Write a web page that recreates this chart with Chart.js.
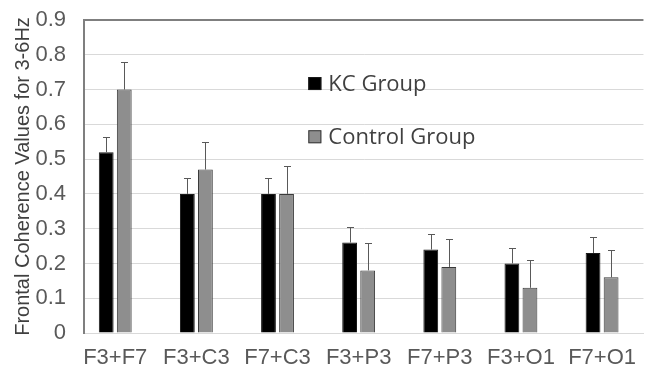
<!DOCTYPE html>
<html>
<head>
<meta charset="utf-8">
<script src="https://cdn.jsdelivr.net/npm/chart.js@4/dist/chart.umd.min.js"></script>
<style>
  html, body { margin: 0; padding: 0; background: #fff; }
  #wrap { width: 648px; height: 372px; }
</style>
</head>
<body>
<div id="wrap"><canvas id="coherenceChart"></canvas></div>
<script>
// electrode pairs on the x axis
const pairs = ["F3+F7", "F3+C3", "F7+C3", "F3+P3", "F7+P3", "F3+O1", "F7+O1"];

// mean coherence and upper error (SD) per group
const kcValues = [0.52, 0.40, 0.40, 0.26, 0.24, 0.20, 0.23];
const kcErrors = [0.043, 0.045, 0.045, 0.045, 0.045, 0.045, 0.045];
const controlValues = [0.70, 0.47, 0.40, 0.18, 0.19, 0.13, 0.16];
const controlErrors = [0.078, 0.08, 0.08, 0.08, 0.08, 0.08, 0.08];

const yMin = 0, yMax = 0.9, yStep = 0.1;

const tickColor = "#595959";
const sansFont = "'Liberation Sans', Arial, sans-serif";

// one-sided error bars (upward only)
const errorBars = {
  id: "errorBars",
  afterDatasetsDraw(chart) {
    const { ctx } = chart;
    const yScale = chart.scales.y;
    ctx.save();
    ctx.strokeStyle = "#595959";
    ctx.lineWidth = 1;
    chart.data.datasets.forEach((ds, di) => {
      const meta = chart.getDatasetMeta(di);
      meta.data.forEach((bar, i) => {
        const top = Math.round(yScale.getPixelForValue(ds.data[i].y + ds.errors[i])) + 0.5;
        const x = Math.round(bar.x) + 0.5;
        ctx.beginPath();
        ctx.moveTo(x, bar.y);
        ctx.lineTo(x, top);
        ctx.moveTo(x - 3.5, top);
        ctx.lineTo(x + 3.5, top);
        ctx.stroke();
      });
    });
    ctx.restore();
  }
};

// legend sits inside the plot, stacked
const innerLegend = {
  id: "innerLegend",
  afterDraw(chart) {
    const { ctx, chartArea } = chart;
    const x = chartArea.left + chartArea.width * 0.401;
    ctx.save();
    ctx.font = "22px 'Open Sans', sans-serif";
    ctx.textBaseline = "middle";
    chart.data.datasets.forEach((ds, i) => {
      const y = chartArea.top + chartArea.height * (0.203 + i * 0.17);
      ctx.fillStyle = ds.backgroundColor;
      ctx.fillRect(x, y - 6.5, 13, 13);
      ctx.strokeStyle = ds.borderColor;
      ctx.lineWidth = 1;
      ctx.strokeRect(x + 0.5, y - 6, 12, 12);
      ctx.fillStyle = "#404040";
      ctx.fillText(ds.label, x + 20, y + 1);
    });
    ctx.restore();
  }
};

const toPoints = vals => vals.map((v, i) => ({ x: i, y: v }));

new Chart(document.getElementById("coherenceChart"), {
  type: "bar",
  data: {
    datasets: [
      {
        label: "KC Group",
        data: toPoints(kcValues),
        errors: kcErrors,
        backgroundColor: "#000000",
        borderColor: "#1a1a1a",
        borderWidth: 1
      },
      {
        label: "Control Group",
        data: toPoints(controlValues),
        errors: controlErrors,
        backgroundColor: "#8e8e8e",
        borderColor: "#3a3a3a",
        borderWidth: 1
      }
    ]
  },
  options: {
    responsive: true,
    maintainAspectRatio: false,
    animation: false,
    categoryPercentage: 0.445,
    barPercentage: 0.82,
    layout: { padding: { top: 20, right: 0, left: 0, bottom: 0 } },
    plugins: {
      legend: { display: false },
      tooltip: { enabled: false }
    },
    scales: {
      x: {
        type: "linear",
        offset: false,
        min: -0.385,
        max: 6.51,
        afterFit: s => { s.height = 39; },
        grid: { display: false, drawTicks: false },
        border: { color: "#d9d9d9" },
        ticks: {
          stepSize: 1,
          includeBounds: false,
          autoSkip: false,
          maxRotation: 0,
          padding: 12,
          color: tickColor,
          font: { size: 22, family: sansFont },
          callback: v => pairs[v] ?? ""
        }
      },
      y: {
        min: yMin,
        max: yMax,
        afterFit: s => { s.width = 84; },
        grid: {
          drawTicks: true,
          tickLength: 15,
          tickColor: "rgba(0,0,0,0)",
          color: c => (Math.abs(c.tick.value - yMax) < 1e-6 ? "#7f7f7f" : "#d9d9d9"),
          lineWidth: c => (Math.abs(c.tick.value - yMax) < 1e-6 ? 2 : 1)
        },
        border: { color: "#7f7f7f", width: 2 },
        ticks: {
          stepSize: yStep,
          padding: 3,
          color: tickColor,
          font: { size: 22, family: sansFont }
        },
        title: {
          display: true,
          text: "Frontal Coherence Values for 3-6Hz",
          color: "#404040",
          font: { size: 20, family: sansFont },
          padding: { top: 11, bottom: 0 }
        }
      }
    }
  },
  plugins: [errorBars, innerLegend]
});
</script>
</body>
</html>
